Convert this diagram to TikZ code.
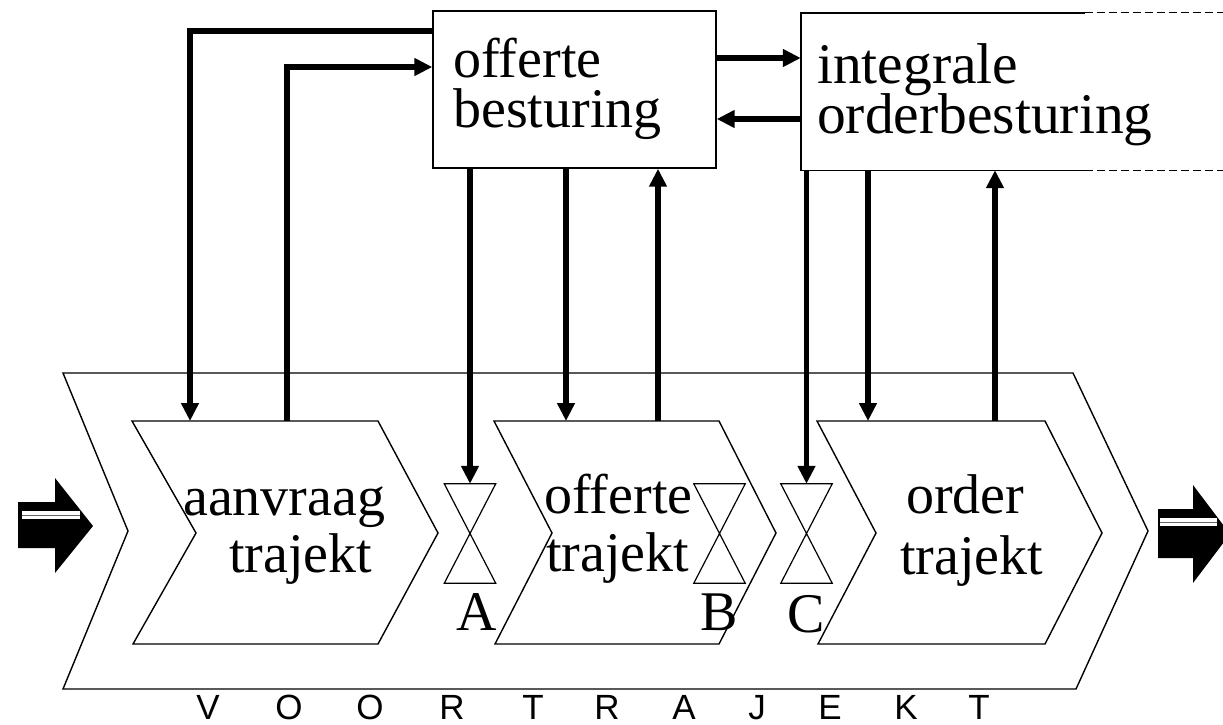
\documentclass[tikz,border=0pt]{standalone}
\usepackage{fontspec}
\setmainfont{Liberation Serif}
\newfontfamily\lettersans{Liberation Sans}
\usetikzlibrary{arrows.meta,calc}
% two stacked lines, 50pt apart, baseline on the first line
\newcommand\twolines[2]{\vtop{\baselineskip=50pt\lineskiplimit=-100pt
  \hbox{#1}\hbox{#2}}}
\begin{document}
\begin{tikzpicture}[x=1pt,y=-1pt,
  outline/.style={draw=black, line width=1.4pt, line join=miter},
  dashedge/.style={draw=black, line width=1pt, dash pattern=on 8pt off 4pt},
  flow/.style={line width=5.5pt, line join=miter, -{Triangle[length=18pt,width=17pt]}},
  big/.style={font=\fontsize{56}{50}\selectfont, inner sep=0pt, anchor=base west,
    text height=36pt, text depth=11pt},
  boxtext/.style={font=\fontsize{56}{50}\selectfont, inner sep=0pt, anchor=base west},
  tag/.style={font=\fontsize{56}{50}\selectfont, inner sep=0pt, anchor=base,
    text height=36pt, text depth=1pt},
  spaced/.style={font=\lettersans\fontsize{35}{35}\selectfont, inner sep=0pt, anchor=base,
    text height=25pt, text depth=0pt},
  glass/.style={minimum width=51pt, minimum height=99pt, inner sep=0pt},
  glassline/.style={draw=black, line width=1.2pt, line join=miter},
]
\useasboundingbox (0,0) rectangle (1223,724);
\fill[white] (0,0) rectangle (1223,724);

% the whole pre-order chain
\draw[outline] (63,373) -- (1073,373) -- (1148,531) -- (1076,689)
  -- (63,689) -- (128,531) -- cycle;

% the three stages
\draw[outline] (132,421) -- (378,421) -- (438,533) -- (378,644)
  -- (133,644) -- (196,533) -- cycle;
\draw[outline] (494,421) -- (719,421) -- (776,533) -- (719,644)
  -- (495,644) -- (552,533) -- cycle;
\draw[outline] (817,421) -- (1045,421) -- (1102,533) -- (1045,644)
  -- (818,644) -- (876,533) -- cycle;

\node[big] (t1a) at (183,515) {aanvraag};
\node[big] (t1b) at (229,572) {trajekt};
\node[big] (t2a) at (544,513) {offerte};
\node[big] (t2b) at (546,571) {trajekt};
\node[big] (t3a) at (906,513) {order};
\node[big] (t3b) at (900,574) {trajekt};

% decoupling points
\node[glass] (glA) at (470,533.5) {};
\node[glass] (glB) at (719.5,533.5) {};
\node[glass] (glC) at (806.5,533.5) {};
\foreach \g in {glA,glB,glC}
  \draw[glassline] (\g.north west) -- (\g.north east) -- (\g.south west)
    -- (\g.south east) -- cycle;
\node[tag] (lA) at (477,630) {A};
\node[tag] (lB) at (719,630) {B};
\node[tag] (lC) at (806,632) {C};

% control boxes
\node[draw, line width=1.4pt, minimum width=283pt, minimum height=157pt,
  inner sep=0pt] (ob) at (574.5,89.5) {};
\node[boxtext] (obt) at (453,77) {\twolines{offerte}{besturing}};

\node[minimum width=422pt, minimum height=157pt, inner sep=0pt] (ib) at (1012,91.5) {};
\draw[outline] ($(ib.north west)+(284,0)$) -- (ib.north west)
  -- (ib.south west) -- ($(ib.south west)+(284,0)$);
\draw[dashedge] ($(ib.north west)+(284,0)$) -- (ib.north east);
\draw[dashedge] ($(ib.south west)+(284,0)$) -- (ib.south east);
\node[boxtext, font=\fontsize{57.5}{50}\selectfont] (ibt) at (817,83)
  {\twolines{integrale}{orderbesturing}};

% connection points on the stages
\coordinate (aanIn) at (190,421);
\coordinate (aanOut) at (287,421);
\coordinate (offIn) at (566,421);
\coordinate (offOut) at (658,421);
\coordinate (ordIn) at (868,421);
\coordinate (ordOut) at (995,421);

% control flows
\draw[flow] (ob.west |- 0,31) -| (aanIn);
\draw[flow] (aanOut) |- (ob.west |- 0,67);
\draw[flow] (ob.east |- 0,58) -- (ib.west |- 0,58);
\draw[flow] (ib.west |- 0,119) -- (ob.east |- 0,119);
\draw[flow] (ob.south -| glA.north) -- (glA.north);
\draw[flow] (ob.south -| offIn) -- (offIn);
\draw[flow] (offOut) -- (ob.south -| offOut);
\draw[flow] (ib.south -| glC.north) -- (glC.north);
\draw[flow] (ib.south -| ordIn) -- (ordIn);
\draw[flow] (ordOut) -- (ib.south -| ordOut);

% incoming and outgoing block arrows
\fill (18,502) -- (55,502) -- (55,478) -- (93,526) -- (55,573)
  -- (55,548) -- (18,548) -- cycle;
\fill[white] (22,511) rectangle (80,519);
\draw[black!60, line width=0.8pt] (22,515.5) -- (80,515.5);
\fill (1158,509) -- (1193,509) -- (1193,485) -- (1230,534) -- (1193,583)
  -- (1193,558) -- (1158,558) -- cycle;
\fill[white] (1160,518) rectangle (1217,526);
\draw[black!60, line width=0.8pt] (1160,522.5) -- (1217,522.5);

% caption letters
\foreach \x/\c in {208/V,289/O,370/O,452/R,533/T,607/R,684/A,757/J,830/E,906/K,979/T}
  \node[spaced] at (\x,719) {\c};
\end{tikzpicture}
\end{document}
